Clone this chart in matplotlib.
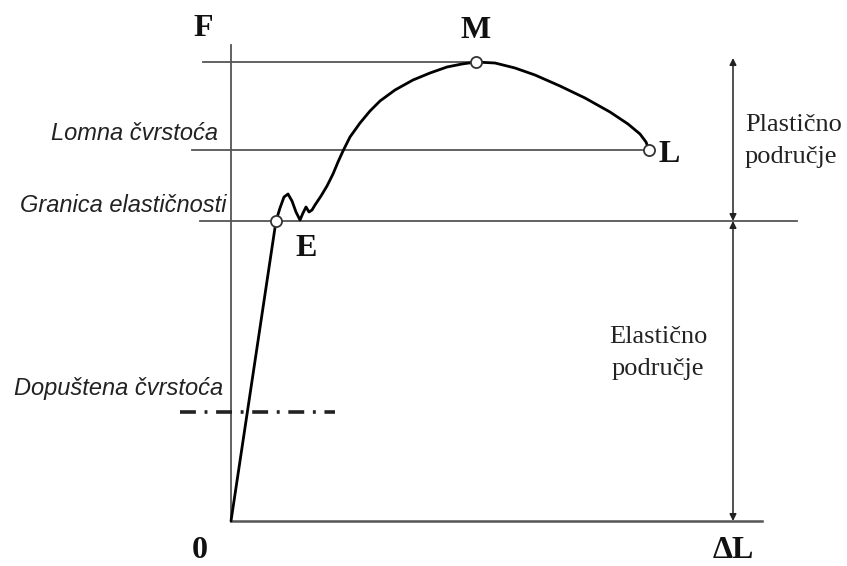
import matplotlib
matplotlib.use("Agg")
import matplotlib.pyplot as plt

# Curve F(dL) (origin at bottom-left of the axes)
curve_dl = [0, 45, 49, 53, 57, 61, 65, 69, 72, 75, 78, 81, 84, 90, 96, 102, 107,
            112, 119, 129, 139, 149, 164, 182, 199, 216, 231, 245, 264, 284, 304,
            329, 354, 379, 397, 409, 415, 418]
curve_f = [0, 300, 313, 324, 327, 320, 309, 301, 308, 314, 309, 311, 316, 325, 335,
           347, 359, 370, 384, 398, 410, 420, 431, 441, 448, 454, 457, 459, 458,
           453, 446, 435, 423, 409, 397, 387, 379, 371]

# Characteristic points
point_names = ["E", "M", "L"]
point_dl = [45, 245, 418]
point_f = [300, 459, 371]

# Horizontal reference levels
f_max = 459          # M
f_break = 371        # Lomna cvrstoca
f_elastic = 300      # Granica elasticnosti
f_allowed = 109      # Dopustena cvrstoca
dl_end = 531
f_top = 476
dl_zone = 502

fig = plt.figure(figsize=(8.47, 5.66), dpi=100)
ax = fig.add_axes([0, 0, 1, 1])
ax.set_xlim(-231, 616)
ax.set_ylim(-45, 521)
ax.axis("off")

grey = "#555555"
serif = "Liberation Serif"
sans = "Liberation Sans"

# axes of the diagram
ax.plot([0, 0], [0, f_top], color=grey, lw=1.3)
ax.plot([0, dl_end], [0, 0], color=grey, lw=1.8)

# reference lines
ax.plot([-28, point_dl[1]], [f_max, f_max], color=grey, lw=1.3)
ax.plot([-39, point_dl[2]], [f_break, f_break], color=grey, lw=1.3)
ax.plot([-31, 566], [f_elastic, f_elastic], color=grey, lw=1.3)
ax.plot([-51, 104], [f_allowed, f_allowed], color="#222222", lw=2.6,
        dashes=(4.4, 2.4, 0.8, 2.4))

# curve
ax.plot(curve_dl, curve_f, color="black", lw=2.0, solid_joinstyle="round",
        solid_capstyle="round")
ax.plot(point_dl, point_f, "o", ms=8, mfc="white", mec="#333333", mew=1.3)

# zone arrows
arrow = dict(arrowstyle="<|-|>", color="#222222", lw=1.1, mutation_scale=10,
             shrinkA=0, shrinkB=0)
ax.annotate("", xy=(dl_zone, f_max + 4), xytext=(dl_zone, f_elastic), arrowprops=arrow)
ax.annotate("", xy=(dl_zone, f_elastic), xytext=(dl_zone, 0), arrowprops=arrow)

# letters
bold = dict(family=serif, fontweight="bold", fontsize=23, color="#111111",
            ha="center", va="center")
ax.text(-28, 492, "F", **bold)
ax.text(point_dl[1], 491, "M", **bold)
ax.text(point_dl[2] + 20, 366, "L", **bold)
ax.text(point_dl[0] + 30, 273, "E", **bold)
ax.text(-31, -29, "0", **bold)
ax.text(dl_zone, -29, "ΔL", **bold)

# italic level labels
ital = dict(family=sans, style="italic", fontsize=17, color="#222222",
            ha="right", va="center")
ax.text(-13, 388, "Lomna čvrstoća", **ital)
ax.text(-5, 316, "Granica elastičnosti", **ital)
ax.text(-8, 133, "Dopuštena čvrstoća", **ital)

# zone labels
ax.text(514, 380, "Plastično\npodručje", family=serif, fontsize=19,
        color="#222222", ha="left", va="center", linespacing=1.6)
ax.text(427, 168, "Elastično\npodručje", family=serif, fontsize=19,
        color="#222222", ha="center", va="center", linespacing=1.6)

fig.savefig("out.png", dpi=100)
